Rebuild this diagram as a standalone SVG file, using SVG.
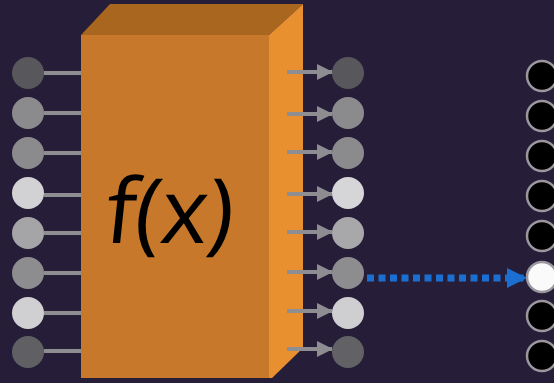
<svg xmlns="http://www.w3.org/2000/svg" width="554" height="383" viewBox="0 0 554 383">
<defs>
<style>
.in{stroke:#8d8d92;stroke-width:4}
.out{stroke:#8d8d92;stroke-width:4}
.tgt{fill:#000;stroke:#9a979f;stroke-width:2.5}
</style>
<marker id="ga" viewBox="0 0 16 16" refX="15" refY="8" markerUnits="userSpaceOnUse" markerWidth="16" markerHeight="16" orient="auto"><path d="M0,0 L16,8 L0,16 Z" fill="#8d8d92"/></marker>
<marker id="ba" viewBox="0 0 20 20" refX="20" refY="10" markerUnits="userSpaceOnUse" markerWidth="20" markerHeight="20" orient="auto"><path d="M0,0 L20,10 L0,20 Z" fill="#1a6fd1"/></marker>
</defs>
<rect width="554" height="383" fill="#261e39"/>
<g id="box">
<polygon points="81,35 110,4 303,4 269,35" fill="#a9661f"/>
<polygon points="269,35 303,4 303,348 272,378 269,378" fill="#e88f30"/>
<rect x="81" y="35" width="188" height="343" fill="#c8782a"/>
<text transform="translate(103,243) skewX(-6)" x="0" y="0" font-family="'Open Sans','Liberation Sans',sans-serif" font-size="90" fill="#000" textLength="128" lengthAdjust="spacing">f(x)</text>
</g>
<g id="connectors">
<line class="in" x1="44" y1="73" x2="81" y2="73"/>
<line class="in" x1="44" y1="113" x2="81" y2="113"/>
<line class="in" x1="44" y1="153" x2="81" y2="153"/>
<line class="in" x1="44" y1="195" x2="81" y2="195"/>
<line class="in" x1="44" y1="233" x2="81" y2="233"/>
<line class="in" x1="44" y1="273" x2="81" y2="273"/>
<line class="in" x1="44" y1="313" x2="81" y2="313"/>
<line class="in" x1="44" y1="351" x2="81" y2="351"/>
<line class="out" x1="287" y1="72" x2="332" y2="72" marker-end="url(#ga)"/>
<line class="out" x1="287" y1="114" x2="332" y2="114" marker-end="url(#ga)"/>
<line class="out" x1="287" y1="152" x2="332" y2="152" marker-end="url(#ga)"/>
<line class="out" x1="287" y1="194" x2="332" y2="194" marker-end="url(#ga)"/>
<line class="out" x1="287" y1="232" x2="332" y2="232" marker-end="url(#ga)"/>
<line class="out" x1="287" y1="272" x2="332" y2="272" marker-end="url(#ga)"/>
<line class="out" x1="287" y1="311" x2="332" y2="311" marker-end="url(#ga)"/>
<line class="out" x1="287" y1="349" x2="332" y2="349" marker-end="url(#ga)"/>
<line x1="367" y1="278" x2="527" y2="278" stroke="#1a6fd1" stroke-width="7" stroke-dasharray="7 4.5" marker-end="url(#ba)"/>
</g>
<g id="inputs">
<circle cx="28" cy="73" r="16" fill="#58585c"/>
<circle cx="28" cy="113" r="16" fill="#8b8b8e"/>
<circle cx="28" cy="153" r="16" fill="#8b8b8e"/>
<circle cx="28" cy="193" r="16" fill="#d2d2d4"/>
<circle cx="28" cy="233" r="16" fill="#a5a5a8"/>
<circle cx="28" cy="273" r="16" fill="#8d8d90"/>
<circle cx="28" cy="313" r="16" fill="#d0d0d2"/>
<circle cx="28" cy="352" r="16" fill="#606064"/>
</g>
<g id="outputs">
<circle cx="348" cy="73" r="16" fill="#58585c"/>
<circle cx="348" cy="113" r="16" fill="#8b8b8e"/>
<circle cx="348" cy="153" r="16" fill="#8b8b8e"/>
<circle cx="348" cy="193" r="16" fill="#d6d6d8"/>
<circle cx="348" cy="233" r="16" fill="#a8a8ab"/>
<circle cx="348" cy="273" r="16" fill="#8d8d90"/>
<circle cx="348" cy="313" r="16" fill="#cfcfd1"/>
<circle cx="348" cy="352" r="16" fill="#626266"/>
</g>
<g id="targets">
<circle class="tgt" cx="542" cy="76" r="15"/>
<circle class="tgt" cx="542" cy="116" r="15"/>
<circle class="tgt" cx="542" cy="156" r="15"/>
<circle class="tgt" cx="542" cy="196" r="15"/>
<circle class="tgt" cx="542" cy="236" r="15"/>
<circle cx="542" cy="277" r="15" fill="#fafafa" stroke="#9a979f" stroke-width="2.5"/>
<circle class="tgt" cx="542" cy="316" r="15"/>
<circle class="tgt" cx="542" cy="356" r="15"/>
</g>
</svg>
